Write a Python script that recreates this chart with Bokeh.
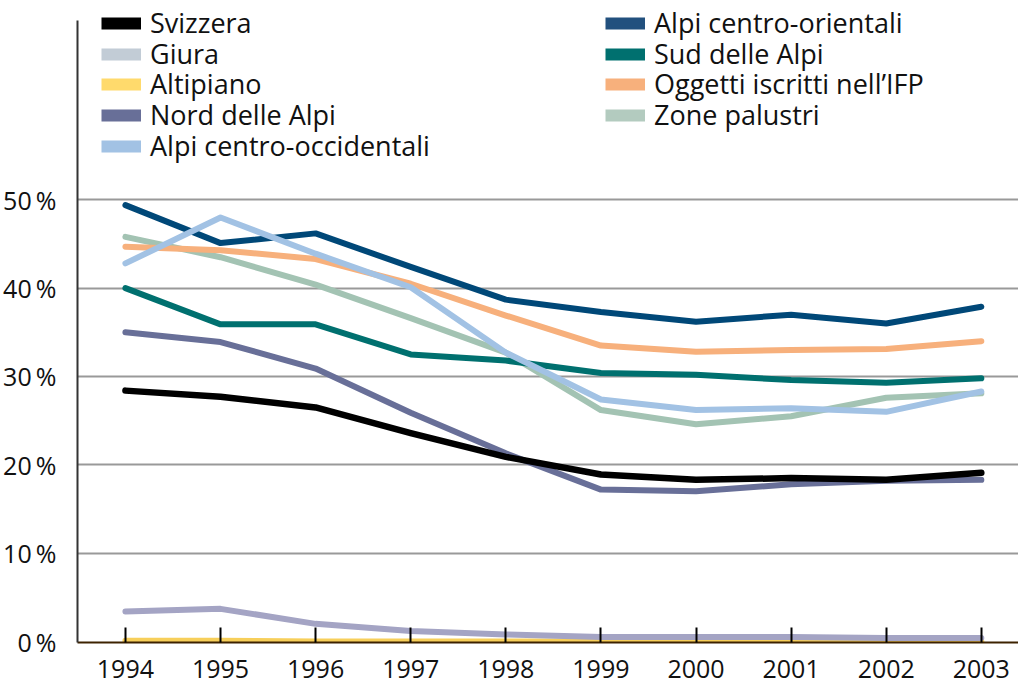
from bokeh.plotting import figure
from bokeh.models import Range1d, FixedTicker, Legend, LegendItem, ColumnDataSource
from bokeh.embed import file_html
from bokeh.resources import INLINE

years = [1994, 1995, 1996, 1997, 1998, 1999, 2000, 2001, 2002, 2003]

svizzera = [28.4, 27.7, 26.5, 23.6, 20.9, 18.9, 18.3, 18.5, 18.3, 19.1]
giura = [3.4, 3.7, 2.0, 1.2, 0.8, 0.5, 0.5, 0.5, 0.4, 0.4]
altipiano = [0.1, 0.1, 0.0, 0.0, 0.0, 0.0, 0.0, 0.0, 0.0, 0.0]
nord_alpi = [35.0, 33.9, 30.9, 25.9, 21.3, 17.2, 17.0, 17.8, 18.2, 18.3]
alpi_occ = [42.8, 48.0, 43.9, 40.1, 32.7, 27.4, 26.2, 26.4, 26.0, 28.3]
alpi_or = [49.4, 45.1, 46.2, 42.4, 38.7, 37.3, 36.2, 37.0, 36.0, 37.9]
sud_alpi = [40.0, 35.9, 35.9, 32.5, 31.8, 30.4, 30.2, 29.6, 29.3, 29.8]
ifp = [44.7, 44.3, 43.3, 40.5, 36.9, 33.5, 32.8, 33.0, 33.1, 34.0]
palustri = [45.8, 43.5, 40.4, 36.6, 32.7, 26.2, 24.6, 25.5, 27.6, 28.1]

y_ticks = [0, 10, 20, 30, 40, 50]
y_tick_labels = ["0\u2009%", "10\u2009%", "20\u2009%", "30\u2009%", "40\u2009%", "50\u2009%"]

# name, values, line colour, legend colour
series = [
    ("Altipiano", altipiano, "#f7cf5a", "#ffda6c"),
    ("Giura", giura, "#a4a4c4", "#c2ccd6"),
    ("Zone palustri", palustri, "#a3c3b3", "#b3cbbf"),
    ("Sud delle Alpi", sud_alpi, "#00706f", "#00706f"),
    ("Oggetti iscritti nell\u2019IFP", ifp, "#f7b07c", "#f7b07c"),
    ("Alpi centro-orientali", alpi_or, "#004878", "#22507e"),
    ("Alpi centro-occidentali", alpi_occ, "#a2c2e4", "#a2c2e4"),
    ("Nord delle Alpi", nord_alpi, "#686f98", "#686f98"),
    ("Svizzera", svizzera, "#000000", "#000000"),
]
left_order = ["Svizzera", "Giura", "Altipiano", "Nord delle Alpi", "Alpi centro-occidentali"]
right_order = ["Alpi centro-orientali", "Sud delle Alpi", "Oggetti iscritti nell\u2019IFP", "Zone palustri"]

FONT = "Open Sans"

p = figure(width=1018, height=693, output_backend="svg", toolbar_location=None,
           x_range=Range1d(1993.496, 2003.391), y_range=Range1d(-0.11, 72.56),
           min_border_left=76, min_border_right=0, min_border_top=0, min_border_bottom=51)
p.outline_line_color = None
p.background_fill_color = "white"

# axes
p.xaxis.ticker = FixedTicker(ticks=years)
p.xaxis.axis_line_color = "#3d2200"
p.xaxis.axis_line_width = 2
p.xaxis.major_tick_in = 15
p.xaxis.major_tick_out = 0
p.xaxis.major_tick_line_color = "#000000"
p.xaxis.major_tick_line_width = 2
p.xaxis.minor_tick_line_color = None
p.xaxis.major_label_text_font = FONT
p.xaxis.major_label_text_font_size = "25px"
p.xaxis.major_label_text_color = "#111111"
p.xaxis.major_label_standoff = 17

p.yaxis.ticker = FixedTicker(ticks=y_ticks)
p.yaxis.bounds = (-0.11, 70.3)
p.yaxis.major_label_overrides = {t: l for t, l in zip(y_ticks, y_tick_labels)}
p.yaxis.axis_line_color = "#333333"
p.yaxis.axis_line_width = 2
p.yaxis.major_tick_line_color = None
p.yaxis.minor_tick_line_color = None
p.yaxis.major_label_text_font = FONT
p.yaxis.major_label_text_font_size = "25px"
p.yaxis.major_label_text_color = "#111111"
p.yaxis.major_label_standoff = 15

p.xgrid.grid_line_color = None
p.ygrid.ticker = FixedTicker(ticks=[10, 20, 30, 40, 50])
p.ygrid.grid_line_color = "#999999"
p.ygrid.grid_line_width = 2

swatches = {}
for name, vals, lc, legc in series:
    src = ColumnDataSource(dict(x=years, y=vals))
    p.line("x", "y", source=src, line_color=lc, line_width=6.5 if name == "Svizzera" else 6,
           line_join="round", line_cap="round")
    # legend-only renderer (hidden), gives the thick colour swatch
    sw = p.line("x", "y", source=src, line_color=legc, line_width=12, line_cap="butt", visible=False)
    swatches[name] = sw

# one single-row legend per entry, so the row pitch matches the reference
row_offsets = [601, 570, 540, 509, 478]
for order, x0 in ((left_order, 24), (right_order, 528)):
    for name, vy in zip(order, row_offsets):
        p.add_layout(Legend(items=[LegendItem(label=name, renderers=[swatches[name]])],
                            location=(x0, vy), orientation="vertical",
                            glyph_width=40, glyph_height=36, label_height=20, spacing=0,
                            label_standoff=9, padding=0, margin=0,
                            border_line_color=None, background_fill_alpha=0,
                            inactive_fill_alpha=0,
                            label_text_font=FONT, label_text_font_size="27px",
                            label_text_color="#111111"))

open("out.html", "w").write(file_html(p, INLINE))
